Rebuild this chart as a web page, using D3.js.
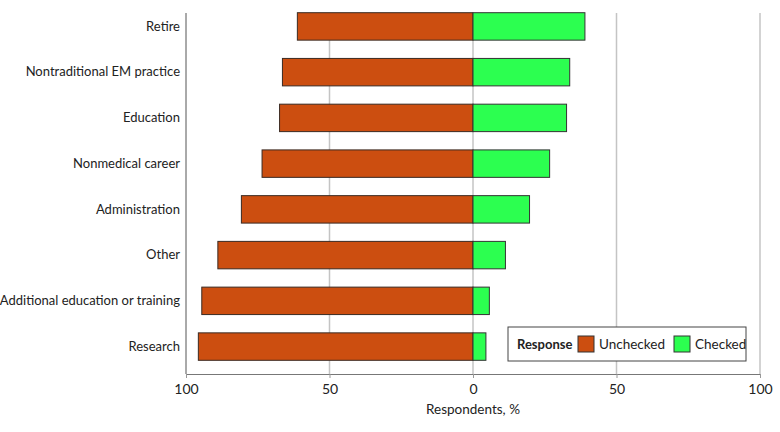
<!DOCTYPE html>
<html>
<head>
<meta charset="utf-8">
<script src="https://cdn.jsdelivr.net/npm/d3@7"></script>
<style>
  body { margin: 0; background: #fff; }
  text { font-family: Lato, "Roboto", sans-serif; }
</style>
</head>
<body>
<div id="chart"></div>
<script>
const width = 780,
      height = 432,
      margin = ({ top: 13, right: 20, bottom: 58, left: 186 }),
      fontSize = 13;

// data, top to bottom
const categories = ["Retire", "Nontraditional EM practice", "Education", "Nonmedical career",
                    "Administration", "Other", "Additional education or training", "Research"];
const unchecked = [61.2, 66.4, 67.4, 73.5, 80.7, 88.9, 94.5, 95.7];
const checked   = [39.0, 33.7, 32.6, 26.7, 19.7, 11.3, 5.7, 4.5];
const xTicks = [-100, -50, 0, 50, 100];
const legendItems = [["Unchecked", "#cc4e10"], ["Checked", "#2cff50"]];

const svg = d3.select("#chart")
    .append("svg")
    .attr("width", width)
    .attr("height", height);

let x = d3.scaleLinear()
    .domain([-100, 100])
    .range([margin.left, width - margin.right]);

let y = d3.scaleBand()
    .domain(categories)
    .range([12.7, 360.3])
    .paddingInner(0.4)
    .paddingOuter(0);

const plotBottom = height - margin.bottom;

// grid lines
svg.append("g")
    .selectAll("line")
    .data(xTicks.filter(d => d > -100))
    .join("line")
    .attr("x1", d => x(d)).attr("x2", d => x(d))
    .attr("y1", margin.top).attr("y2", plotBottom)
    .attr("stroke", "#c4c4c4")
    .attr("stroke-width", 1.5);

// bars
let bar = svg.selectAll(".bar")
    .data(categories)
    .join("g")
    .attr("class", "bar");

bar.append("rect")
    .attr("x", (d, i) => x(-unchecked[i]))
    .attr("y", d => y(d))
    .attr("width", (d, i) => x(0) - x(-unchecked[i]))
    .attr("height", y.bandwidth())
    .attr("fill", legendItems[0][1])
    .attr("stroke", "#3a2a22")
    .attr("stroke-width", 1);

bar.append("rect")
    .attr("x", x(0))
    .attr("y", d => y(d))
    .attr("width", (d, i) => x(checked[i]) - x(0))
    .attr("height", y.bandwidth())
    .attr("fill", legendItems[1][1])
    .attr("stroke", "#333")
    .attr("stroke-width", 1);

// x axis
const xAxis = svg.append("g")
    .attr("transform", `translate(0, ${plotBottom})`)
    .call(d3.axisBottom(x).tickValues(xTicks).tickFormat(d => Math.abs(d)).tickSizeOuter(0).tickSize(4));
xAxis.select(".domain").attr("stroke", "#777");
xAxis.selectAll(".tick line").attr("stroke", "#999");
xAxis.selectAll(".tick text")
    .attr("font-size", fontSize + 1)
    .attr("fill", "#222")
    .attr("dy", "0.9em");

// y axis
const yAxis = svg.append("g")
    .attr("transform", `translate(${margin.left}, 0)`)
    .call(d3.axisLeft(y).tickSize(0).tickPadding(6));
yAxis.select(".domain").attr("stroke", "#555")
    .attr("d", `M0,${margin.top}V${plotBottom}`);
yAxis.selectAll(".tick text")
    .attr("font-size", fontSize)
    .attr("fill", "#222");

svg.append("text")
    .attr("x", x(0))
    .attr("y", 414)
    .attr("text-anchor", "middle")
    .attr("font-size", fontSize + 0.5)
    .attr("fill", "#222")
    .text("Respondents, %");

// legend
const legend = svg.append("g")
    .attr("transform", "translate(508, 327)");

legend.append("rect")
    .attr("width", 238)
    .attr("height", 34)
    .attr("fill", "#fff")
    .attr("stroke", "#444");

legend.append("text")
    .attr("x", 9)
    .attr("y", 22)
    .attr("font-size", fontSize)
    .attr("font-weight", "bold")
    .attr("fill", "#222")
    .text("Response");

const legendX = [70, 166];
let item = legend.selectAll(".item")
    .data(legendItems)
    .join("g")
    .attr("class", "item")
    .attr("transform", (d, i) => `translate(${legendX[i]}, 9)`);

item.append("rect")
    .attr("width", 16)
    .attr("height", 16)
    .attr("fill", d => d[1])
    .attr("stroke", "#333");

item.append("text")
    .attr("x", 21)
    .attr("y", 13)
    .attr("font-size", fontSize + 0.5)
    .attr("fill", "#222")
    .text(d => d[0]);
</script>
</body>
</html>
